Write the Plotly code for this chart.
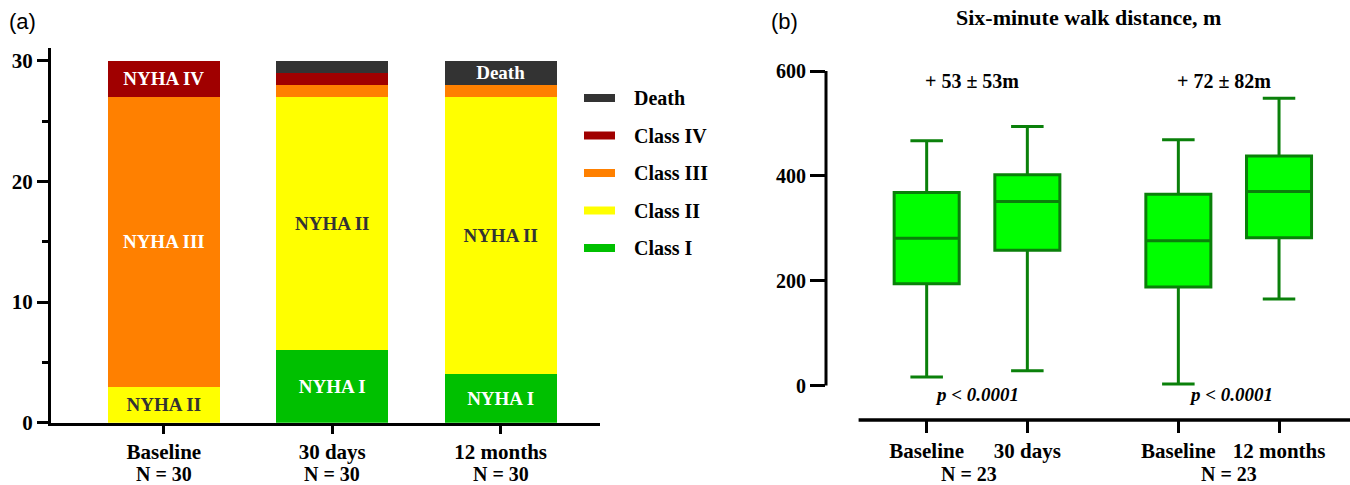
import plotly.graph_objects as go

# ---------------- data : panel (a) NYHA class ----------------
timepoints = ["Baseline", "30 days", "12 months"]
n_labels_a = ["N = 30", "N = 30", "N = 30"]
classes = ["Class I", "Class II", "Class III", "Class IV", "Death"]
class_colors = ["#00c000", "#ffff00", "#ff8000", "#a00000", "#333333"]
class_i = [0, 6, 4]
class_ii = [3, 21, 23]
class_iii = [24, 1, 1]
class_iv = [3, 1, 0]
death = [0, 1, 2]
seg_text_i = ["", "NYHA I", "NYHA I"]
seg_text_ii = ["NYHA II", "NYHA II", "NYHA II"]
seg_text_iii = ["NYHA III", "", ""]
seg_text_iv = ["NYHA IV", "", ""]
seg_text_death = ["", "", "Death"]
seg_text_colors = ["white", "#333333", "white", "white", "white"]

# ---------------- data : panel (b) six-minute walk ----------------
box_labels = ["Baseline", "30 days", "Baseline", "12 months"]
walk_lower = [16, 28, 3, 165]
walk_q1 = [194, 258, 188, 282]
walk_median = [281, 351, 276, 370]
walk_q3 = [368, 402, 365, 438]
walk_upper = [467, 494, 469, 548]
change_labels = ["+ 53 ± 53m", "+ 72 ± 82m"]
p_labels = ["p < 0.0001", "p < 0.0001"]
n_labels_b = ["N = 23", "N = 23"]
y_ticks_a = [0, 10, 20, 30]
y_ticks_b = [0, 200, 400, 600]

# ---------------- layout helpers ----------------
W, H = 1350, 485
SERIF = "Liberation Serif"
SANS = "Liberation Sans"


def px(x):
    return x / W


def py(y):
    return 1 - y / H


fig = go.Figure()

series = [class_i, class_ii, class_iii, class_iv, death]
seg_texts = [seg_text_i, seg_text_ii, seg_text_iii, seg_text_iv, seg_text_death]
for name, color, vals, txt, tcol in zip(classes, class_colors, series, seg_texts, seg_text_colors):
    fig.add_trace(go.Bar(
        x=timepoints, y=vals, name=name, width=0.665,
        marker=dict(color=color, line=dict(width=0)),
        text=txt, textposition="inside", insidetextanchor="middle", textangle=0,
        textfont=dict(family=SERIF, size=19, color=tcol, weight="bold"),
        showlegend=False, hoverinfo="skip", xaxis="x", yaxis="y",
    ))

box_pos = [0, 1, 2.5, 3.5]
fig.add_trace(go.Box(
    x=box_pos, q1=walk_q1, median=walk_median, q3=walk_q3,
    lowerfence=walk_lower, upperfence=walk_upper,
    width=0.646, whiskerwidth=0.5, boxpoints=False,
    fillcolor="#00ff00", line=dict(color="#0a800a", width=3),
    showlegend=False, hoverinfo="skip", xaxis="x2", yaxis="y2",
))

tickfont = dict(family=SERIF, size=21, color="black", weight="bold")
nfont = dict(family=SERIF, size=20, color="black", weight="bold")

fig.update_layout(
    width=W, height=H, margin=dict(l=0, r=0, t=0, b=0, pad=0, autoexpand=False),
    paper_bgcolor="white", plot_bgcolor="white",
    barmode="stack", showlegend=False,
    uniformtext=dict(minsize=19, mode="show"),
    xaxis=dict(domain=[px(51), px(600)], anchor="y", range=[-0.67, 2.59], automargin=False,
               showline=True, linewidth=3, linecolor="black",
               ticks="outside", ticklen=8, tickwidth=3, tickcolor="black",
               tickfont=tickfont, showgrid=False, zeroline=False),
    yaxis=dict(domain=[py(422.7), py(47.6)], anchor="x", range=[0, 31.1], automargin=False,
               tickvals=y_ticks_a, showline=True, linewidth=3, linecolor="black",
               ticks="outside", ticklen=11, tickwidth=3, tickcolor="black",
               minor=dict(dtick=5, ticks="outside", ticklen=6, tickwidth=3, tickcolor="black", showgrid=False),
               tickfont=tickfont, showgrid=False, zeroline=False),
    xaxis2=dict(domain=[px(826), 1.0], anchor="y2", range=[-1.0, 4.205], automargin=False,
                tickvals=box_pos, ticktext=box_labels,
                showline=False, ticks="outside", ticklen=12, tickwidth=3, tickcolor="black",
                tickfont=tickfont, showgrid=False, zeroline=False),
    yaxis2=dict(domain=[py(420), py(71)], anchor="x2", range=[-65.8, 600], automargin=False,
                tickvals=y_ticks_b, showline=False,
                ticks="outside", ticklen=15, tickwidth=3, tickcolor="black",
                tickfont=dict(family=SERIF, size=20, color="black", weight="bold"),
                showgrid=False, zeroline=False),
)

shapes = [
    # panel (b) axis lines
    dict(type="line", xref="x2 domain", yref="y2", x0=0, x1=0, y0=0, y1=600,
         line=dict(color="black", width=3)),
    dict(type="line", xref="x2 domain", yref="y2 domain", x0=(858.6 - 826) / 524, x1=1, y0=0, y1=0,
         line=dict(color="black", width=3.5)),
]
annotations = []

# legend (panel a), top entry = Death
leg_order = list(range(len(classes)))[::-1]
for k, i in enumerate(leg_order):
    yc = 98 + 37.5 * k
    shapes.append(dict(type="rect", xref="paper", yref="paper",
                       x0=px(584), x1=px(615), y0=py(yc + 4), y1=py(yc - 4),
                       fillcolor=class_colors[i], line=dict(width=0)))
    annotations.append(dict(text=classes[i], xref="paper", yref="paper", x=px(632), y=py(yc),
                            xanchor="left", yanchor="middle", showarrow=False,
                            font=dict(family=SERIF, size=20, color="black", weight="bold")))

# N labels under panel (a)
for j, lab in enumerate(n_labels_a):
    annotations.append(dict(text=lab, xref="x", yref="paper", x=j, y=py(473.5),
                            xanchor="center", yanchor="middle", showarrow=False, font=nfont))

# panel (b) texts
pair_mid = [0.45, 2.95]
for j in range(2):
    annotations.append(dict(text=change_labels[j], xref="x2", yref="paper", x=pair_mid[j], y=py(81),
                            xanchor="center", yanchor="middle", showarrow=False,
                            font=dict(family=SERIF, size=20, color="black", weight="bold")))
    annotations.append(dict(text=p_labels[j], xref="x2", yref="paper", x=[0.5, 3.02][j], y=py(394),
                            xanchor="center", yanchor="middle", showarrow=False,
                            font=dict(family=SERIF, size=19, color="black", weight="bold", style="italic")))
    annotations.append(dict(text=n_labels_b[j], xref="x2", yref="paper", x=[0.42, 3.0][j], y=py(473.5),
                            xanchor="center", yanchor="middle", showarrow=False, font=nfont))

annotations.append(dict(text="Six-minute walk distance, m", xref="paper", yref="paper",
                        x=px(1088), y=py(18), xanchor="center", yanchor="middle", showarrow=False,
                        font=dict(family=SERIF, size=22, color="black", weight="bold")))
annotations.append(dict(text="(a)", xref="paper", yref="paper", x=px(7), y=py(22),
                        xanchor="left", yanchor="middle", showarrow=False,
                        font=dict(family=SANS, size=22, color="black")))
annotations.append(dict(text="(b)", xref="paper", yref="paper", x=px(769), y=py(22),
                        xanchor="left", yanchor="middle", showarrow=False,
                        font=dict(family=SANS, size=22, color="black")))

fig.update_layout(shapes=shapes, annotations=annotations)
fig.write_html("out.html", config={"displayModeBar": False},
               post_script="document.body.style.margin='0';document.body.style.overflow='hidden';")
